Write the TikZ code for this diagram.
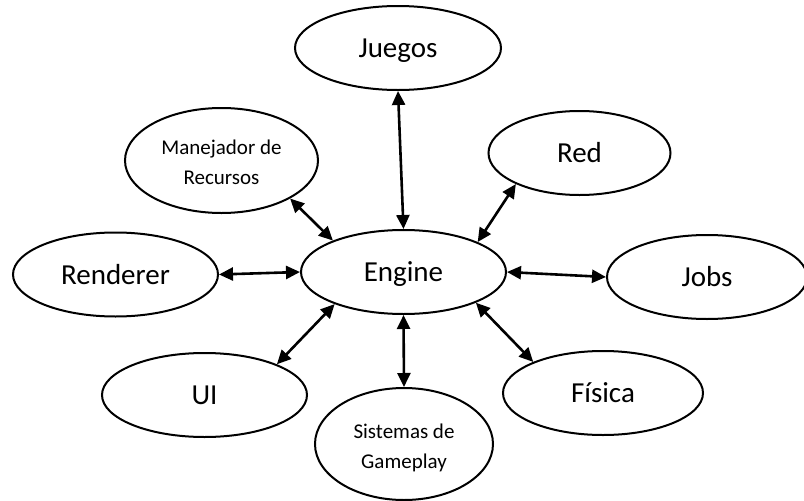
\documentclass[tikz,border=0pt]{standalone}
\usepackage{fontspec}
\setmainfont{Carlito}
\usetikzlibrary{shapes.geometric,arrows.meta}

\tikzset{
  module/.style={draw=black, line width=2pt, ellipse, inner sep=0pt,
    minimum width=205pt, minimum height=84pt,
    text height=19pt, text depth=0pt,
    font=\fontsize{29}{35}\selectfont},
  smallmodule/.style={module, align=center,
    text height=48pt, text depth=0pt,
    font=\fontsize{21}{30}\selectfont},
  link/.style={line width=2.6pt,
    {Triangle[length=14pt,width=13pt]}-{Triangle[length=14pt,width=13pt]}}
}

\begin{document}
\begin{tikzpicture}[x=1pt,y=-1pt]
  \useasboundingbox (0,0) rectangle (804,501);
  \clip (0,0) rectangle (804,501);

  % central engine and the subsystems around it
  \node[module] (engine) at (403.5,272) {Engine};
  \node[module, minimum width=206pt] (juegos) at (398,48) {Juegos};
  \node[smallmodule, minimum width=193pt, minimum height=105pt] (recursos) at (221.5,160.5) {Manejador de\\Recursos};
  \node[module, minimum width=182pt] (red) at (579.5,153) {Red};
  \node[module] (renderer) at (115.5,274.5) {Renderer};
  \node[module, minimum width=200pt] (jobs) at (707,277) {Jobs};
  \node[module] (ui) at (204.5,395) {UI};
  \node[module, minimum width=200pt] (fisica) at (603,393) {Física};
  \node[smallmodule, minimum width=178pt, minimum height=112pt] (gameplay) at (404,444) {Sistemas de\\Gameplay};

  % two-way links to the engine
  \draw[link] (juegos.south) -- (engine.north);
  \draw[link] (recursos.-29) -- (engine.156.5);
  \draw[link] (red.206.4) -- (engine.22.5);
  \draw[link] (renderer.east) -- (engine.west);
  \draw[link] (engine.east) -- (jobs.west);
  \draw[link] (engine.-23) -- (fisica.156);
  \draw[link] (engine.205.5) -- (ui.23.5);
  \draw[link] (engine.south) -- (gameplay.north);
\end{tikzpicture}
\end{document}
